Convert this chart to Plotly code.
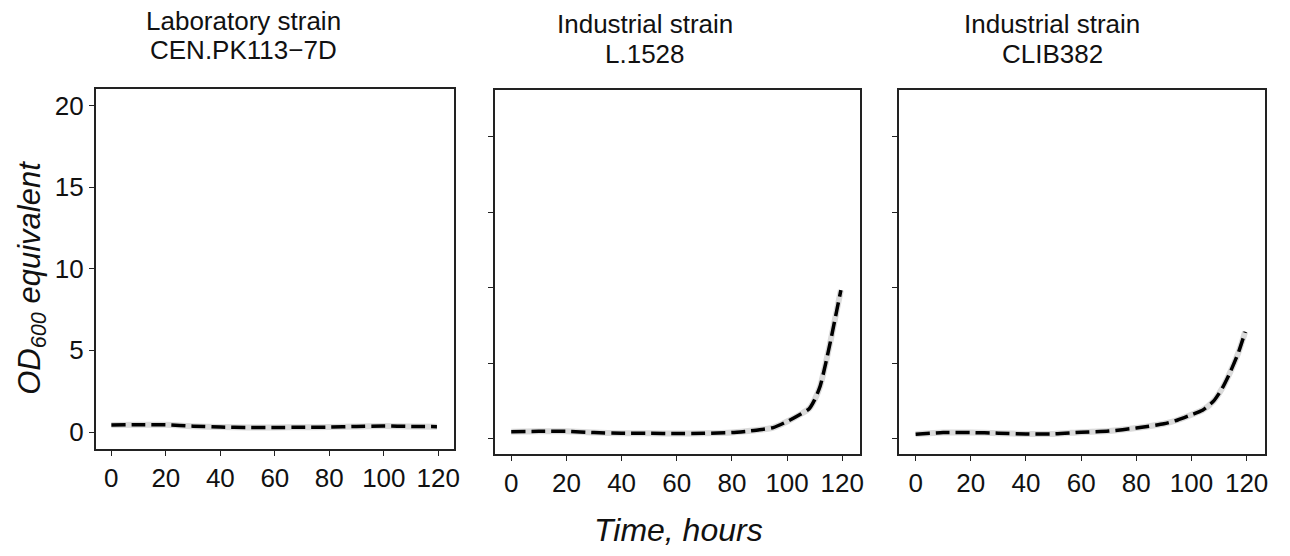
import plotly.graph_objects as go

# ---- data ----
lab_time = [0, 10, 20, 30, 40, 50, 60, 70, 80, 90, 100, 110, 119.5]
lab_od = [0.43, 0.45, 0.44, 0.36, 0.30, 0.28, 0.28, 0.29, 0.30, 0.34, 0.37, 0.34, 0.33]

l1528_time = [0, 10, 20, 30, 40, 50, 60, 70, 80, 85, 90, 95, 100, 105, 108, 110, 112, 114, 116, 118, 119.5]
l1528_od = [0.48, 0.50, 0.50, 0.42, 0.37, 0.37, 0.36, 0.37, 0.42, 0.50, 0.60, 0.75, 1.15, 1.65, 2.0, 2.6, 3.5, 5.0, 6.7, 8.5, 9.85]

clib_time = [0, 10, 20, 30, 40, 50, 60, 70, 80, 90, 95, 100, 104, 108, 111, 114, 117, 119.5]
clib_od = [0.31, 0.42, 0.42, 0.38, 0.33, 0.33, 0.44, 0.52, 0.72, 1.0, 1.25, 1.6, 1.9, 2.5, 3.3, 4.4, 5.7, 7.1]

titles_line1 = ["Laboratory strain", "Industrial strain", "Industrial strain"]
titles_line2 = ["CEN.PK113\u22127D", "L.1528", "CLIB382"]

x_ticks = [0, 20, 40, 60, 80, 100, 120]
y_ticks = [0, 5, 10, 15, 20]

series = [(lab_time, lab_od), (l1528_time, l1528_od), (clib_time, clib_od)]

W, H = 1290, 556
# pixel boxes of panels: (left, right, top, bottom)
boxes = [(96, 456.5, 88.5, 449), (497, 864.5, 90, 454), (903, 1271, 90, 454)]
xranges = [[-5.8, 125.9], [-6.0, 126.6], [-6.1, 126.7]]
yranges = [[-1.04, 21.04], [-1.0, 23.1], [-1.0, 23.1]]
title_x = [245, 648, 1057]
title_y = [(21, 50), (24, 54), (24, 54)]

FONT = "Liberation Sans, Arial, sans-serif"
AX = "#222222"

fig = go.Figure()
layout = dict(
    width=W, height=H, margin=dict(l=0, r=0, t=0, b=0),
    paper_bgcolor="white", plot_bgcolor="white", showlegend=False,
    font=dict(family=FONT, color="#111111"),
)
annotations = []
for i, ((t, od), (l, r, tp, bt)) in enumerate(zip(series, boxes)):
    sfx = "" if i == 0 else str(i + 1)
    xa, ya = "x" + sfx, "y" + sfx
    # grey ribbon
    fig.add_trace(go.Scatter(x=t, y=od, mode="lines", xaxis=xa, yaxis=ya,
                             line=dict(color="#dadada", width=6, shape="spline", smoothing=0.6),
                             hoverinfo="skip"))
    fig.add_trace(go.Scatter(x=t, y=od, mode="lines", xaxis=xa, yaxis=ya,
                             line=dict(color="black", width=3.5, dash="14px,6px", shape="spline", smoothing=0.6)))
    layout["xaxis" + sfx] = dict(
        domain=[l / W, r / W], range=xranges[i], anchor=ya,
        tickvals=x_ticks, ticks="outside", ticklen=5, tickcolor=AX, tickwidth=1.3,
        showline=True, mirror=True, linecolor=AX, linewidth=1.5,
        showgrid=False, zeroline=False,
        tickfont=dict(size=26, color="#111111", family=FONT),
    )
    layout["yaxis" + sfx] = dict(
        domain=[1 - bt / H, 1 - tp / H], range=yranges[i], anchor=xa,
        tickvals=y_ticks, ticks="outside", ticklen=5, tickcolor=AX, tickwidth=1.3,
        showticklabels=(i == 0),
        showline=True, mirror=True, linecolor=AX, linewidth=1.5,
        showgrid=False, zeroline=False,
        tickfont=dict(size=26, color="#111111", family=FONT),
    )
    for txt, yy in zip((titles_line1[i], titles_line2[i]), title_y[i]):
        annotations.append(dict(text=txt, x=title_x[i] / W, y=1 - yy / H, xref="paper", yref="paper",
                                xanchor="center", yanchor="middle", showarrow=False,
                                font=dict(size=26, family=FONT, color="#111111")))

annotations.append(dict(text="<i>OD<sub>600</sub> equivalent</i>", x=32 / W, y=1 - 278 / H,
                        xref="paper", yref="paper", textangle=-90, xanchor="center", yanchor="middle",
                        showarrow=False, font=dict(size=31, family=FONT, color="#111111")))
annotations.append(dict(text="<i>Time, hours</i>", x=682 / W, y=1 - 530 / H,
                        xref="paper", yref="paper", xanchor="center", yanchor="middle",
                        showarrow=False, font=dict(size=32, family=FONT, color="#111111")))
layout["annotations"] = annotations
fig.update_layout(**layout)
fig.write_html("out.html", config={"displayModeBar": False},
               post_script="document.body.style.margin='0';")
